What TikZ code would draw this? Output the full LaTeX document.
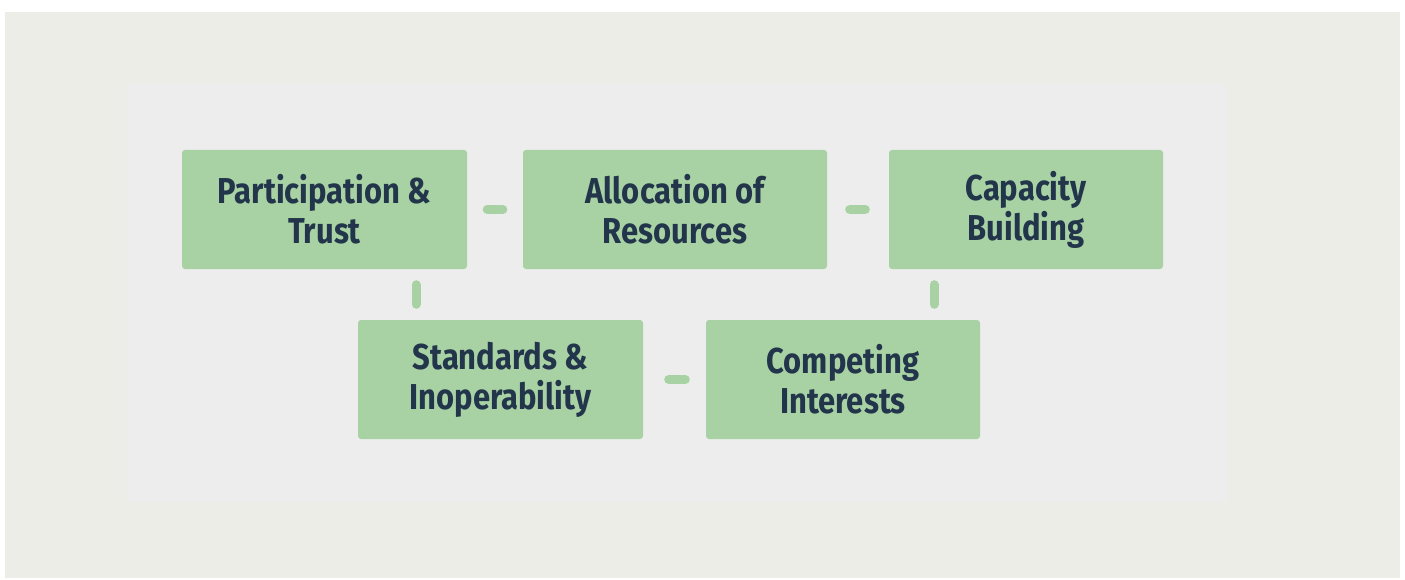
\documentclass[tikz,border=0pt]{standalone}
\usepackage{fontspec}
\newfontfamily\boxfont{Fira Sans}[FakeStretch=0.86]
\definecolor{panelout}{HTML}{EDEDE8}
\definecolor{panelin}{HTML}{EDEDED}
\definecolor{boxgreen}{HTML}{A8D2A4}
\definecolor{boxtext}{HTML}{22354B}
\begin{document}
\begin{tikzpicture}[x=1pt, y=-1pt,
  block/.style={fill=boxgreen, rounded corners=3pt, inner sep=0pt,
    minimum height=119pt, align=center, text=boxtext,
    font=\boxfont\bfseries\fontsize{36}{40}\selectfont},
  link/.style={draw=boxgreen, line width=9pt, line cap=round}]
\useasboundingbox (0,0) rectangle (1405,580);
\fill[white] (0,0) rectangle (1405,580);
\fill[panelout] (5,12) rectangle (1400,578);
\fill[panelin] (127,84) rectangle (1227,502);
% top row
\node[block, minimum width=285pt] (part) at (324.5,209.5) {Participation \&\\Trust};
\node[block, minimum width=304pt] (alloc) at (675,209.5) {Allocation of\\Resources};
\node[block, minimum width=274pt] (capac) at (1026,209.5) {Capacity\\Building};
% bottom row
\node[block, minimum width=285pt] (stand) at (500.5,379.5) {Standards \&\\Inoperability};
\node[block, minimum width=274pt] (compet) at (843,379.5) {Competing\\Interests};
% links
\coordinate (vl) at (416,0);
\coordinate (vr) at (934,0);
\draw[link, shorten <=20pt, shorten >=20pt] (part.east) -- (alloc.west);
\draw[link, shorten <=22.5pt, shorten >=23.5pt] (alloc.east) -- (capac.west);
\draw[link, shorten <=25.5pt, shorten >=20.5pt] (stand.east) -- (compet.west);
\draw[link, shorten <=15.5pt, shorten >=15.5pt] (part.south -| vl) -- (stand.north -| vl);
\draw[link, shorten <=15.5pt, shorten >=15.5pt] (capac.south -| vr) -- (compet.north -| vr);
\end{tikzpicture}
\end{document}
